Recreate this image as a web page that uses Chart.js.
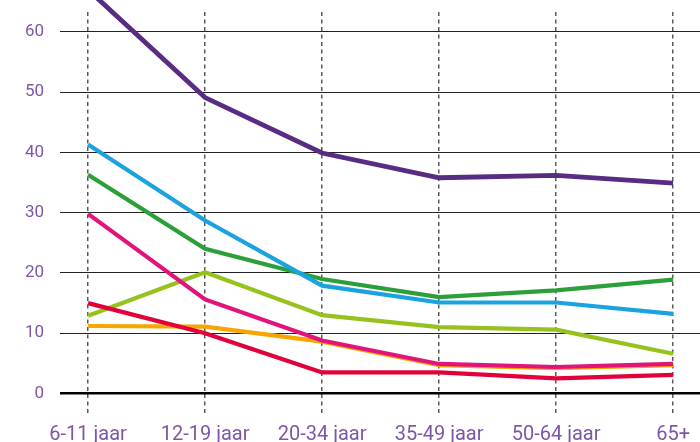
<!DOCTYPE html>
<html>
<head>
<meta charset="utf-8">
<script src="https://cdn.jsdelivr.net/npm/chart.js@4/dist/chart.umd.min.js"></script>
<style>
  html, body { margin: 0; padding: 0; background: #fff; }
  #wrap { width: 700px; height: 442px; }
</style>
</head>
<body>
<div id="wrap"><canvas id="chart"></canvas></div>
<script>
const categories = ['6-11 jaar', '12-19 jaar', '20-34 jaar', '35-49 jaar', '50-64 jaar', '65+'];
const yTicks = [0, 10, 20, 30, 40, 50, 60];

const purple = [67, 49.1, 39.9, 35.8, 36.2, 34.9];
const red = [15.0, 10.0, 3.5, 3.5, 2.5, 3.1];
const pink = [29.8, 15.6, 8.8, 4.9, 4.4, 4.9];
const blue = [41.3, 28.7, 17.9, 15.1, 15.1, 13.2];
const green = [36.3, 24.0, 19.0, 16.0, 17.1, 18.9];
const lime = [12.9, 20.1, 13.0, 11.0, 10.6, 6.6];
const orange = [11.2, 11.1, 8.6, 4.7, 4.2, 4.7];

const labelColor = '#7d57a6';

function series(values, color, width) {
    return {
        data: values.map((v, i) => ({ x: i, y: v })),
        borderColor: color,
        borderWidth: width || 4.2,
        pointRadius: 0,
        tension: 0,
        fill: false,
        clip: false
    };
}

const ctx = document.getElementById('chart').getContext('2d');
new Chart(ctx, {
    type: 'line',
    data: {
        datasets: [
            series(purple, '#582c83', 4.8),
            series(red, '#e2003b'),
            series(pink, '#e0147b'),
            series(blue, '#1aa3e0'),
            series(green, '#2ba038'),
            series(lime, '#97c21d'),
            series(orange, '#f7a500')
        ]
    },
    options: {
        responsive: true,
        maintainAspectRatio: false,
        animation: false,
        layout: { padding: 0 },
        plugins: {
            legend: { display: false },
            tooltip: { enabled: false }
        },
        scales: {
            x: {
                type: 'linear',
                min: -0.24,
                max: 5.23,
                afterBuildTicks: (scale) => {
                    scale.ticks = categories.map((c, i) => ({ value: i }));
                },
                afterFit: (scale) => { scale.height = 48.5; },
                border: { display: false, dash: [4, 3.5] },
                grid: {
                    color: '#5a5a5a',
                    lineWidth: 1.5,
                    tickBorderDash: [4, 3.5],
                    drawTicks: true,
                    tickLength: 20,
                    tickColor: '#5a5a5a'
                },
                ticks: {
                    padding: 9,
                    maxRotation: 0,
                    color: labelColor,
                    font: { family: 'Roboto', size: 20 },
                    callback: (v) => categories[v]
                }
            },
            y: {
                min: 0,
                max: 63.3,
                afterBuildTicks: (scale) => {
                    scale.ticks = yTicks.map(v => ({ value: v }));
                },
                afterFit: (scale) => { scale.width = 60; scale.paddingTop = 12; },
                border: { display: false },
                grid: {
                    color: (c) => c.tick && c.tick.value === 0 ? '#000' : '#222',
                    lineWidth: (c) => c.tick && c.tick.value === 0 ? 2.5 : 1,
                    drawTicks: false
                },
                ticks: {
                    padding: 16,
                    color: labelColor,
                    font: { family: 'Roboto', size: 17 }
                }
            }
        }
    }
});
</script>
</body>
</html>
